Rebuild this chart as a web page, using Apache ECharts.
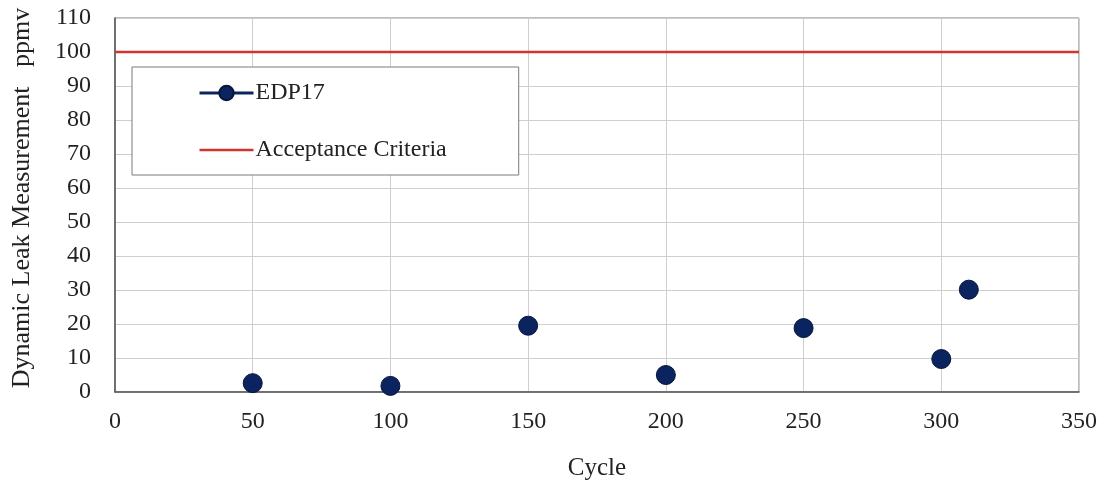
<!DOCTYPE html>
<html>
<head>
<meta charset="utf-8">
<title>Dynamic Leak Measurement</title>
<script src="https://cdn.jsdelivr.net/npm/echarts@6/dist/echarts.min.js"></script>
<style>
    html, body { margin: 0; padding: 0; background: #fff; }
    #chart { width: 1098px; height: 487px; }
</style>
</head>
<body>
<div id="chart"></div>
<script>
// Data
const cycles = [50, 100, 150, 200, 250, 300, 310];
const leakPpmv = [2.6, 1.8, 19.5, 5.0, 18.8, 9.7, 30.1];
const criteriaCycles = [0, 350];
const criteriaPpmv = [100, 100];

const FONT = '"Liberation Serif", "DejaVu Serif", serif';
const NAVY = '#0b2460';
const RED = '#d03530';

const chart = echarts.init(document.getElementById('chart'), null, { renderer: 'canvas' });

const option = {
    backgroundColor: '#fff',
    animation: false,
    textStyle: { fontFamily: FONT, color: '#222' },
    grid: {
        left: 115,
        right: 19,
        top: 18,
        bottom: 95,
        outerBoundsMode: 'none',
        show: true,
        borderColor: '#7a7a7a',
        borderWidth: 1
    },
    legend: {
        orient: 'vertical',
        left: 132,
        top: 67,
        padding: [14, 72, 13, 66],
        itemGap: 33,
        itemWidth: 54,
        itemHeight: 18,
        backgroundColor: '#fff',
        borderColor: '#7a7a7a',
        borderWidth: 1,
        borderRadius: 0,
        textStyle: { fontFamily: FONT, fontSize: 24, color: '#222', padding: [0, 0, 0, -3] },
        data: [
            { name: 'EDP17', lineStyle: { width: 3, color: NAVY, opacity: 1 } },
            // line only, no marker in the legend
            { name: 'Acceptance Criteria', itemStyle: { opacity: 0 }, lineStyle: { width: 2.5, color: RED } }
        ]
    },
    xAxis: {
        type: 'value',
        min: 0,
        max: 350,
        interval: 50,
        name: 'Cycle',
        nameLocation: 'middle',
        nameGap: 64,
        nameTextStyle: { fontFamily: FONT, fontSize: 25, color: '#222' },
        axisLine: { show: true, lineStyle: { color: '#555', width: 1.5 } },
        axisTick: { show: false },
        axisLabel: { fontFamily: FONT, fontSize: 24, color: '#222', margin: 18 },
        splitLine: { show: true, lineStyle: { color: '#cfcfcf', width: 1 } }
    },
    yAxis: {
        type: 'value',
        min: 0,
        max: 110,
        interval: 10,
        name: 'Dynamic Leak Measurement   ppmv',
        nameLocation: 'middle',
        nameGap: 80,
        nameTextStyle: { fontFamily: FONT, fontSize: 26, color: '#222', padding: [0, 0, 0, 14] },
        axisLine: { show: true, lineStyle: { color: '#555', width: 1.5 } },
        axisTick: { show: false },
        axisLabel: { fontFamily: FONT, fontSize: 24, color: '#222', margin: 24 },
        splitLine: { show: true, lineStyle: { color: '#cfcfcf', width: 1 } }
    },
    series: [
        {
            name: 'EDP17',
            type: 'line',
            data: cycles.map((c, i) => [c, leakPpmv[i]]),
            symbol: 'circle',
            symbolSize: 19,
            lineStyle: { width: 0, opacity: 0 },
            itemStyle: { color: NAVY, borderColor: '#061538', borderWidth: 1 },
            z: 3
        },
        {
            name: 'Acceptance Criteria',
            type: 'line',
            data: criteriaCycles.map((c, i) => [c, criteriaPpmv[i]]),
            symbol: 'none',
            lineStyle: { color: RED, width: 2.5 },
            itemStyle: { color: RED },
            z: 2
        }
    ]
};

chart.setOption(option);
window.addEventListener('resize', () => chart.resize());
</script>
</body>
</html>
